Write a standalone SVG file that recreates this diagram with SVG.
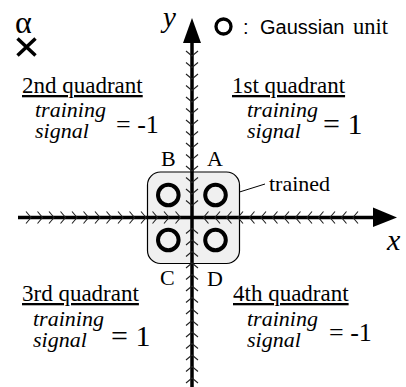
<svg xmlns="http://www.w3.org/2000/svg" width="406" height="387" viewBox="0 0 406 387">
<style>
.serif{font-family:"Liberation Serif","Times New Roman",serif;fill:#000}
.sans{font-family:"Liberation Sans",Arial,sans-serif;fill:#000}
.it{font-style:italic}
.title{font-size:23px;text-decoration:underline}
.frac{font-size:22px;font-style:italic}
.lbl{font-size:22px}
.ring{fill:none;stroke:#000;stroke-width:4}
.axis{stroke:#000;stroke-width:3.5;fill:none}
.chev{fill:none;stroke:none;marker-start:url(#chev);marker-mid:url(#chev);marker-end:url(#chev)}
</style>
<defs>
<marker id="chev" markerUnits="userSpaceOnUse" markerWidth="14" markerHeight="14" refX="0" refY="0" orient="auto" overflow="visible">
<path d="M-5,-6 L0,0 L-5,6" fill="none" stroke="#222" stroke-width="1.1"/>
</marker>
</defs>
<rect width="406" height="387" fill="#fff"/>

<g id="trained-region">
<rect x="147.5" y="172" width="92" height="91.5" rx="13" fill="#f0f0f0" stroke="#000" stroke-width="1.2"/>
</g>

<g id="connectors">
<line class="axis" x1="18" y1="217.5" x2="376" y2="217.5"/>
<line class="axis" x1="192" y1="387" x2="192" y2="41"/>
<polygon points="192,18 183,43 201,43" fill="#000"/>
<polygon points="373,207.5 397,217.5 373,227" fill="#000"/>
<path class="chev" d="M192,56 L192,67.5 L192,79 L192,90.5 L192,102 L192,113.5 L192,125 L192,136.5 L192,148 L192,159.5 L192,171 L192,182.5 L192,194 L192,205.5"/>
<path class="chev" d="M192,389.5 L192,378 L192,366.5 L192,355 L192,343.5 L192,332 L192,320.5 L192,309 L192,297.5 L192,286 L192,274.5 L192,263 L192,251.5 L192,240 L192,228.5"/>
<path class="chev" d="M31,217.5 L42.5,217.5 L54,217.5 L65.5,217.5 L77,217.5 L88.5,217.5 L100,217.5 L111.5,217.5 L123,217.5 L134.5,217.5 L146,217.5 L157.5,217.5 L169,217.5 L180.5,217.5"/>
<path class="chev" d="M353,217.5 L341.5,217.5 L330,217.5 L318.5,217.5 L307,217.5 L295.5,217.5 L284,217.5 L272.5,217.5 L261,217.5 L249.5,217.5 L238,217.5 L226.5,217.5 L215,217.5 L203.5,217.5"/>
<line x1="239.5" y1="192" x2="265" y2="184" stroke="#000" stroke-width="1"/>
</g>

<g id="unit-B"><circle class="ring" cx="168.3" cy="195" r="10.3"/><text class="serif lbl" x="161" y="166">B</text></g>
<g id="unit-A"><circle class="ring" cx="215.5" cy="195" r="10.3"/><text class="serif lbl" x="207" y="166">A</text></g>
<g id="unit-C"><circle class="ring" cx="168.3" cy="240" r="10.3"/><text class="serif lbl" x="160" y="285">C</text></g>
<g id="unit-D"><circle class="ring" cx="215.5" cy="240" r="10.3"/><text class="serif lbl" x="207" y="286">D</text></g>

<g id="trained-label"><text class="serif" x="269" y="191" font-size="22">trained</text></g>

<g id="axis-labels">
<text class="serif it" x="163" y="27" font-size="29">y</text>
<text class="serif it" x="387" y="250" font-size="30">x</text>
</g>

<g id="legend">
<circle cx="223.5" cy="26.5" r="7.5" fill="none" stroke="#000" stroke-width="3.3"/>
<text class="sans" x="243" y="34" font-size="20">:</text>
<text class="sans" x="260" y="34" font-size="20">Gaussian</text>
<text class="serif" x="353" y="34" font-size="22.5">unit</text>
</g>

<g id="alpha">
<text class="serif" x="15" y="33" font-size="32">α</text>
<path d="M17.5,38.5 L35.5,55.5 M35.5,38.5 L17.5,55.5" stroke="#000" stroke-width="3.5" fill="none"/>
</g>

<g id="q2">
<text class="serif title" x="22" y="93">2nd quadrant</text>
<text class="serif frac" x="35" y="117">training</text>
<text class="serif frac" x="35" y="138">signal</text>
<text class="serif" x="116" y="133" font-size="26">= -1</text>
</g>
<g id="q1">
<text class="serif title" x="232" y="93">1st quadrant</text>
<text class="serif frac" x="247" y="117">training</text>
<text class="serif frac" x="247" y="138">signal</text>
<text class="serif" x="323" y="134" font-size="30">= 1</text>
</g>
<g id="q3">
<text class="serif title" x="22" y="301">3rd quadrant</text>
<text class="serif frac" x="33" y="326">training</text>
<text class="serif frac" x="33" y="347">signal</text>
<text class="serif" x="111" y="346" font-size="30">= 1</text>
</g>
<g id="q4">
<text class="serif title" x="233" y="301">4th quadrant</text>
<text class="serif frac" x="247" y="326">training</text>
<text class="serif frac" x="247" y="347">signal</text>
<text class="serif" x="329" y="341" font-size="26">= -1</text>
</g>
</svg>
